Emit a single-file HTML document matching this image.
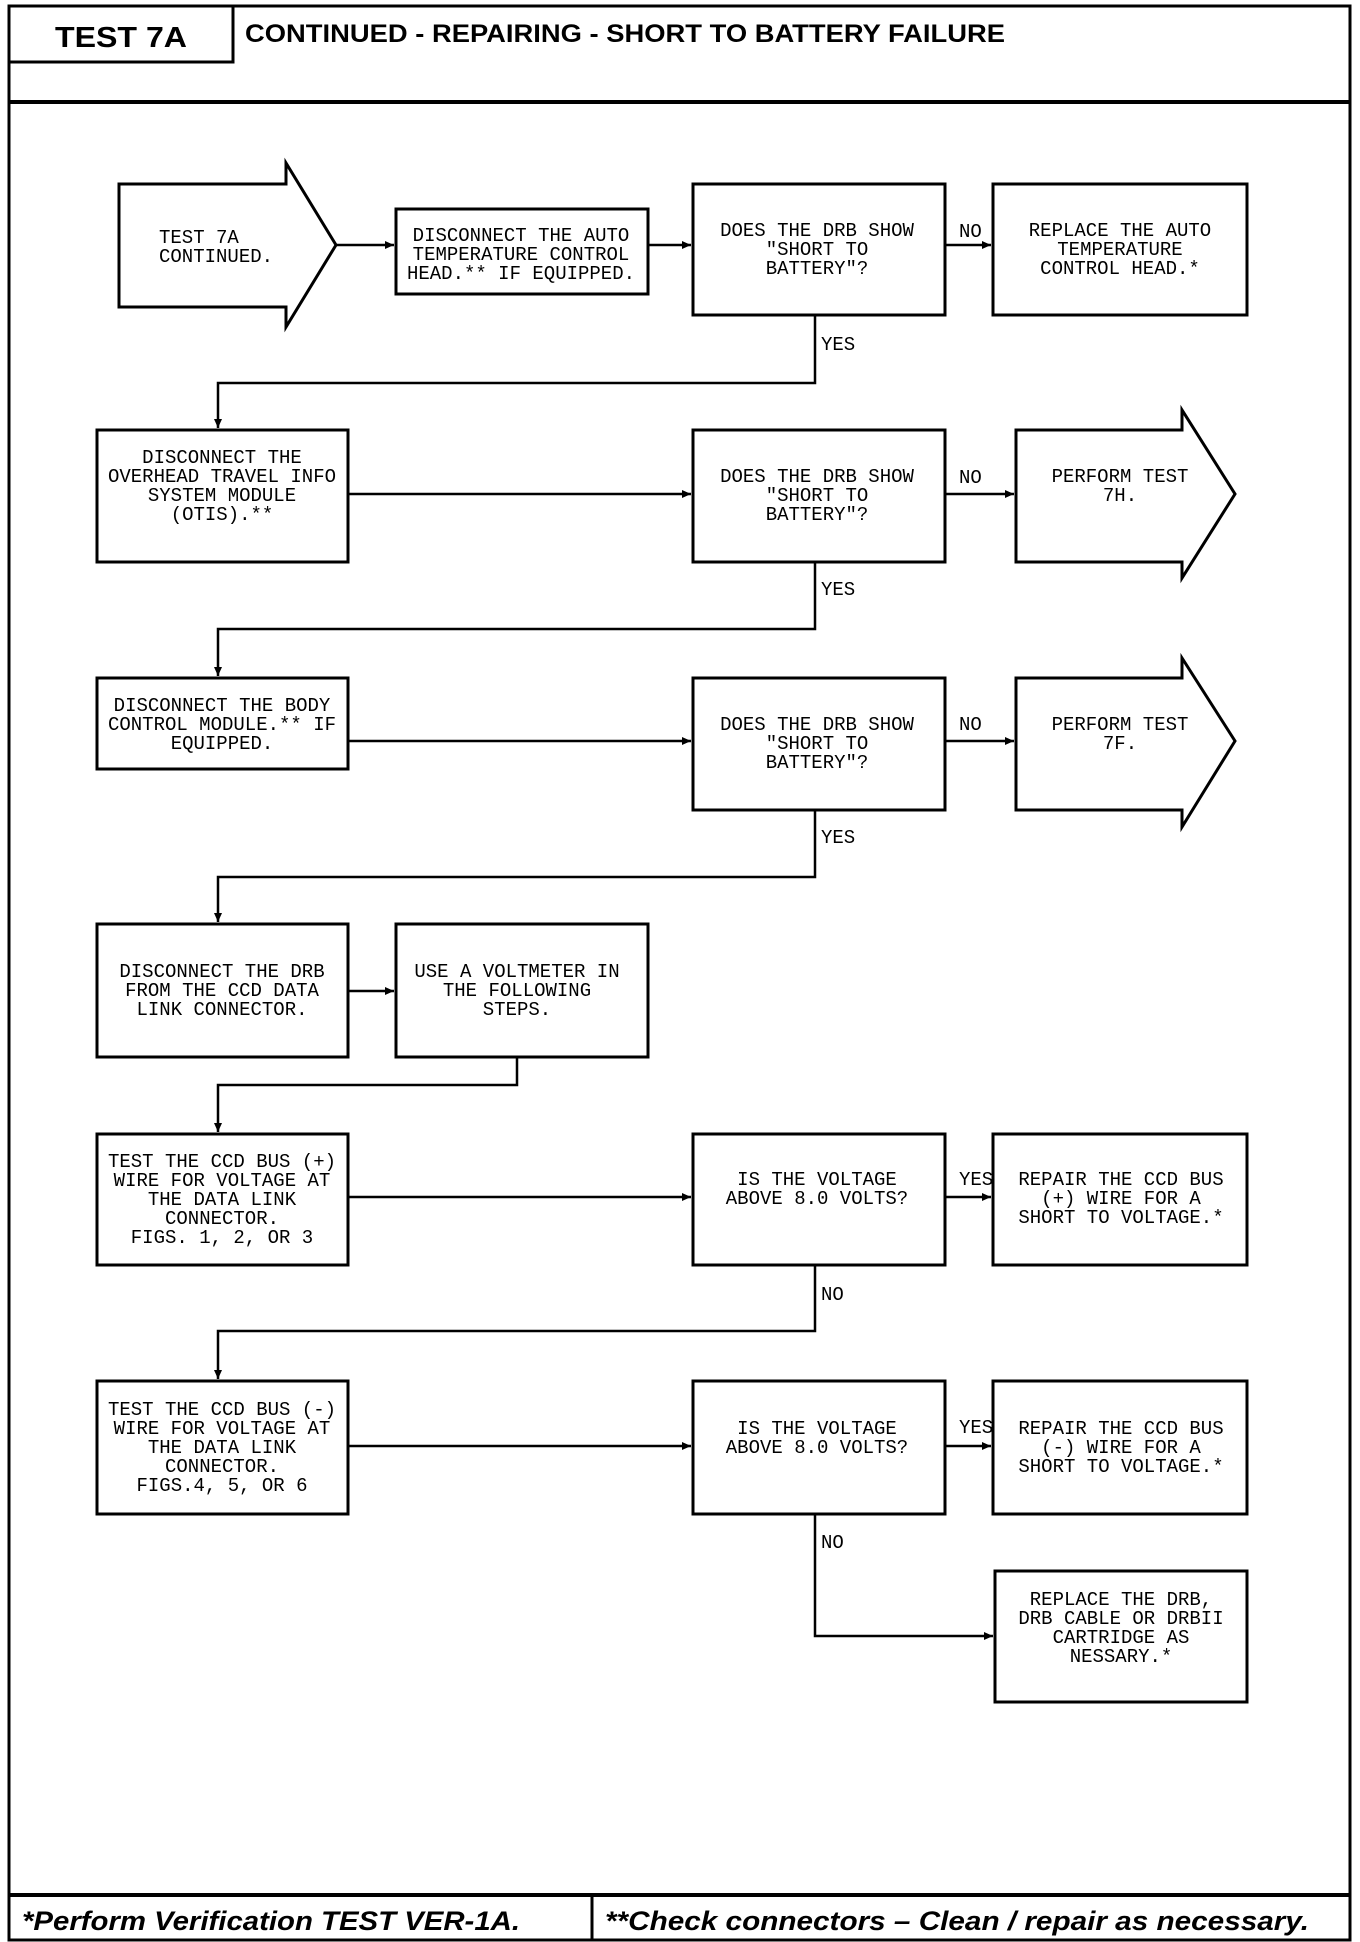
<!DOCTYPE html>
<html><head><meta charset="utf-8"><style>
html,body{margin:0;padding:0;background:#fff}
svg{display:block}
.t{font-family:"Liberation Mono",monospace;font-size:19px;fill:#000;text-anchor:middle}
.l{font-family:"Liberation Mono",monospace;font-size:19px;fill:#000}
.b{fill:#fff;stroke:#000;stroke-width:3}
.c{fill:none;stroke:#000;stroke-width:2.5}
</style></head><body>
<svg width="1360" height="1942" viewBox="0 0 1360 1942" xmlns="http://www.w3.org/2000/svg">
<defs><marker id="a" markerWidth="10" markerHeight="10" refX="9" refY="5" orient="auto" markerUnits="userSpaceOnUse"><path d="M0,1 L9,5 L0,9 z" fill="#000"/></marker></defs>
<rect x="9" y="6" width="1341" height="1934" fill="none" stroke="#000" stroke-width="3"/>
<path d="M9,62 H233 V6" fill="none" stroke="#000" stroke-width="3"/>
<line x1="9" y1="102" x2="1350" y2="102" stroke="#000" stroke-width="4"/>
<text x="121" y="47" text-anchor="middle" font-family="Liberation Sans,sans-serif" font-weight="bold" font-size="29" textLength="132" lengthAdjust="spacingAndGlyphs">TEST 7A</text>
<text x="245" y="42" font-family="Liberation Sans,sans-serif" font-weight="bold" font-size="25" textLength="760" lengthAdjust="spacingAndGlyphs">CONTINUED -  REPAIRING - SHORT TO BATTERY FAILURE</text>
<line x1="9" y1="1895" x2="1350" y2="1895" stroke="#000" stroke-width="4"/>
<line x1="592" y1="1895" x2="592" y2="1941" stroke="#000" stroke-width="3"/>
<text x="22" y="1930" font-family="Liberation Sans,sans-serif" font-weight="bold" font-style="italic" font-size="27" textLength="498" lengthAdjust="spacingAndGlyphs">*Perform Verification TEST VER-1A.</text>
<text x="605" y="1930" font-family="Liberation Sans,sans-serif" font-weight="bold" font-style="italic" font-size="27" textLength="704" lengthAdjust="spacingAndGlyphs">**Check connectors – Clean / repair as necessary.</text>

<!-- row1 -->
<path class="b" d="M119,184 H286 V163 L336,245 L286,327 V307 H119 Z"/>
<text class="l" x="159" y="243">TEST 7A</text><text class="l" x="159" y="262">CONTINUED.</text>
<rect class="b" x="396" y="209" width="252" height="85"/>
<text class="t" x="521" y="241">DISCONNECT THE AUTO</text><text class="t" x="521" y="260">TEMPERATURE CONTROL</text><text class="t" x="521" y="279">HEAD.** IF EQUIPPED.</text>
<rect class="b" x="693" y="184" width="252" height="131"/>
<text class="t" x="817" y="236">DOES THE DRB SHOW</text><text class="t" x="817" y="255">"SHORT TO</text><text class="t" x="817" y="274">BATTERY"?</text>
<rect class="b" x="993" y="184" width="254" height="131"/>
<text class="t" x="1120" y="236">REPLACE THE AUTO</text><text class="t" x="1120" y="255">TEMPERATURE</text><text class="t" x="1120" y="274">CONTROL HEAD.*</text>
<line class="c" x1="336" y1="245" x2="394" y2="245" marker-end="url(#a)"/>
<line class="c" x1="648" y1="245" x2="691" y2="245" marker-end="url(#a)"/>
<line class="c" x1="945" y1="245" x2="991" y2="245" marker-end="url(#a)"/>
<text class="l" x="959" y="237">NO</text>
<path class="c" d="M815,315 V383 H218 V428" marker-end="url(#a)"/>
<text class="l" x="821" y="350">YES</text>

<!-- row2 -->
<rect class="b" x="97" y="430" width="251" height="132"/>
<text class="t" x="222" y="463">DISCONNECT THE</text><text class="t" x="222" y="482">OVERHEAD TRAVEL INFO</text><text class="t" x="222" y="501">SYSTEM MODULE</text><text class="t" x="222" y="520">(OTIS).**</text>
<rect class="b" x="693" y="430" width="252" height="132"/>
<text class="t" x="817" y="482">DOES THE DRB SHOW</text><text class="t" x="817" y="501">"SHORT TO</text><text class="t" x="817" y="520">BATTERY"?</text>
<path class="b" d="M1016,430 H1182 V410 L1235,494 L1182,578 V562 H1016 Z"/>
<text class="t" x="1120" y="482">PERFORM TEST</text><text class="t" x="1120" y="501">7H.</text>
<line class="c" x1="348" y1="494" x2="691" y2="494" marker-end="url(#a)"/>
<line class="c" x1="945" y1="494" x2="1014" y2="494" marker-end="url(#a)"/>
<text class="l" x="959" y="483">NO</text>
<path class="c" d="M815,562 V629 H218 V676" marker-end="url(#a)"/>
<text class="l" x="821" y="595">YES</text>

<!-- row3 -->
<rect class="b" x="97" y="678" width="251" height="91"/>
<text class="t" x="222" y="711">DISCONNECT THE BODY</text><text class="t" x="222" y="730">CONTROL MODULE.** IF</text><text class="t" x="222" y="749">EQUIPPED.</text>
<rect class="b" x="693" y="678" width="252" height="132"/>
<text class="t" x="817" y="730">DOES THE DRB SHOW</text><text class="t" x="817" y="749">"SHORT TO</text><text class="t" x="817" y="768">BATTERY"?</text>
<path class="b" d="M1016,678 H1182 V658 L1235,741 L1182,827 V810 H1016 Z"/>
<text class="t" x="1120" y="730">PERFORM TEST</text><text class="t" x="1120" y="749">7F.</text>
<line class="c" x1="348" y1="741" x2="691" y2="741" marker-end="url(#a)"/>
<line class="c" x1="945" y1="741" x2="1014" y2="741" marker-end="url(#a)"/>
<text class="l" x="959" y="730">NO</text>
<path class="c" d="M815,810 V877 H218 V922" marker-end="url(#a)"/>
<text class="l" x="821" y="843">YES</text>

<!-- row4 -->
<rect class="b" x="97" y="924" width="251" height="133"/>
<text class="t" x="222" y="977">DISCONNECT THE DRB</text><text class="t" x="222" y="996">FROM THE CCD DATA</text><text class="t" x="222" y="1015">LINK CONNECTOR.</text>
<rect class="b" x="396" y="924" width="252" height="133"/>
<text class="t" x="517" y="977">USE A VOLTMETER IN</text><text class="t" x="517" y="996">THE FOLLOWING</text><text class="t" x="517" y="1015">STEPS.</text>
<line class="c" x1="348" y1="991" x2="394" y2="991" marker-end="url(#a)"/>
<path class="c" d="M517,1057 V1085 H218 V1132" marker-end="url(#a)"/>

<!-- row5 -->
<rect class="b" x="97" y="1134" width="251" height="131"/>
<text class="t" x="222" y="1167">TEST THE CCD BUS (+)</text><text class="t" x="222" y="1186">WIRE FOR VOLTAGE AT</text><text class="t" x="222" y="1205">THE DATA LINK</text><text class="t" x="222" y="1224">CONNECTOR.</text><text class="t" x="222" y="1243">FIGS. 1, 2, OR 3</text>
<rect class="b" x="693" y="1134" width="252" height="131"/>
<text class="t" x="817" y="1185">IS THE VOLTAGE</text><text class="t" x="817" y="1204">ABOVE 8.0 VOLTS?</text>
<rect class="b" x="993" y="1134" width="254" height="131"/>
<text class="t" x="1121" y="1185">REPAIR THE CCD BUS</text><text class="t" x="1121" y="1204">(+) WIRE FOR A</text><text class="t" x="1121" y="1223">SHORT TO VOLTAGE.*</text>
<line class="c" x1="348" y1="1197" x2="691" y2="1197" marker-end="url(#a)"/>
<line class="c" x1="945" y1="1197" x2="991" y2="1197" marker-end="url(#a)"/>
<text class="l" x="959" y="1185">YES</text>
<path class="c" d="M815,1265 V1331 H218 V1379" marker-end="url(#a)"/>
<text class="l" x="821" y="1300">NO</text>

<!-- row6 -->
<rect class="b" x="97" y="1381" width="251" height="133"/>
<text class="t" x="222" y="1415">TEST THE CCD BUS (-)</text><text class="t" x="222" y="1434">WIRE FOR VOLTAGE AT</text><text class="t" x="222" y="1453">THE DATA LINK</text><text class="t" x="222" y="1472">CONNECTOR.</text><text class="t" x="222" y="1491">FIGS.4, 5, OR 6</text>
<rect class="b" x="693" y="1381" width="252" height="133"/>
<text class="t" x="817" y="1434">IS THE VOLTAGE</text><text class="t" x="817" y="1453">ABOVE 8.0 VOLTS?</text>
<rect class="b" x="993" y="1381" width="254" height="133"/>
<text class="t" x="1121" y="1434">REPAIR THE CCD BUS</text><text class="t" x="1121" y="1453">(-) WIRE FOR A</text><text class="t" x="1121" y="1472">SHORT TO VOLTAGE.*</text>
<line class="c" x1="348" y1="1446" x2="691" y2="1446" marker-end="url(#a)"/>
<line class="c" x1="945" y1="1446" x2="991" y2="1446" marker-end="url(#a)"/>
<text class="l" x="959" y="1433">YES</text>
<path class="c" d="M815,1514 V1636 H993" marker-end="url(#a)"/>
<text class="l" x="821" y="1548">NO</text>

<!-- row7 -->
<rect class="b" x="995" y="1571" width="252" height="131"/>
<text class="t" x="1121" y="1605">REPLACE THE DRB,</text><text class="t" x="1121" y="1624">DRB CABLE OR DRBII</text><text class="t" x="1121" y="1643">CARTRIDGE AS</text><text class="t" x="1121" y="1662">NESSARY.*</text>
</svg>
</body></html>
